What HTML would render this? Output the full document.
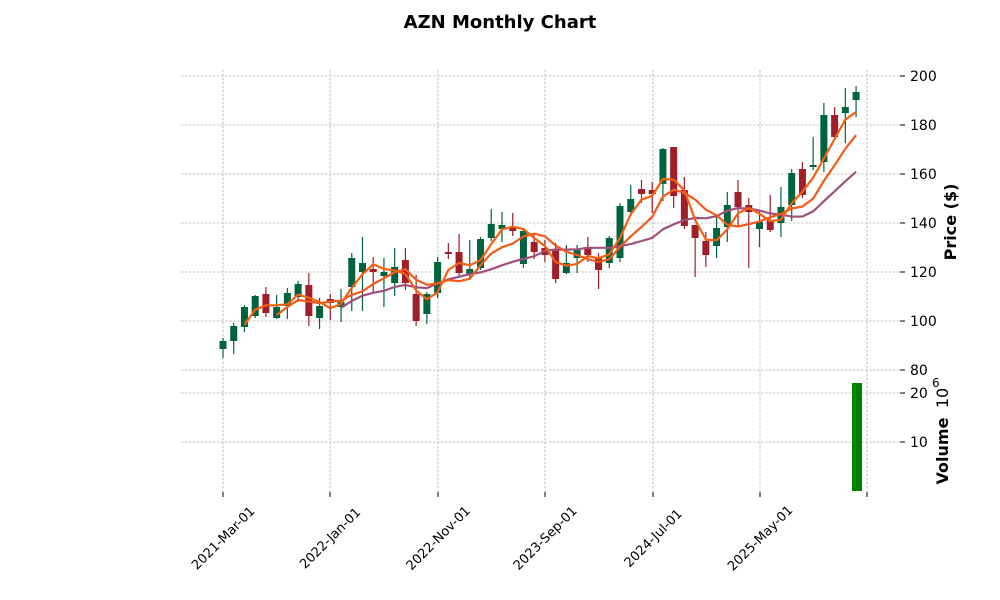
<!DOCTYPE html>
<html><head><meta charset="utf-8"><style>
body{margin:0;background:#fff;}
svg{display:block;font-family:"DejaVu Sans","Liberation Sans",sans-serif;}
</style></head><body>
<svg id="s" width="1000" height="600" viewBox="0 0 1000 600" xmlns="http://www.w3.org/2000/svg">
<rect width="1000" height="600" fill="#fff"/>
<text x="500" y="28" text-anchor="middle" font-size="18" font-weight="bold">AZN Monthly Chart</text>
<g id="grid" stroke="#b0b0b0" stroke-width="0.8" stroke-dasharray="2.5,1.5"></g>
<g id="c"></g>
<g id="ma"></g>
<rect x="852" y="383" width="10" height="108" fill="#008000"/>
<g font-size="14" fill="#000" id="yl"></g>
<g font-size="13" id="xl"></g>
<text transform="translate(956,222) rotate(-90)" text-anchor="middle" font-size="16" font-weight="bold">Price ($)</text>
<text transform="translate(948,451) rotate(-90)" text-anchor="middle" font-size="16" font-weight="bold">Volume</text>
<text transform="translate(948,398) rotate(-90)" text-anchor="middle" font-size="16">10</text>
<text x="932" y="387" font-size="12">6</text>
</svg>
<script>
const NS="http://www.w3.org/2000/svg";
function el(p,t,a,txt){const e=document.createElementNS(NS,t);for(const k in a)e.setAttribute(k,a[k]);if(txt!==undefined)e.textContent=txt;document.getElementById(p).appendChild(e);return e;}
const xt=[223,330,438,545,653,760,867],xn=["2021-Mar-01","2022-Jan-01","2022-Nov-01","2023-Sep-01","2024-Jul-01","2025-May-01",""];
[76,125,174,223,272,321,370,393,442].forEach(y=>el("grid","line",{x1:181,x2:900,y1:y,y2:y}));
xt.forEach((x,i)=>{el("grid","line",{x1:x,x2:x,y1:70,y2:492});
 el("xl","line",{x1:x,x2:x,y1:492,y2:497,stroke:"#000"});
 if(xn[i]){el("xl","text",{transform:`translate(${x},${538}) rotate(-45)`,"text-anchor":"middle",dy:"4.5"},xn[i]);}});
[[200,76],[180,125],[160,174],[140,223],[120,272],[100,321],[80,370],[20,393],[10,442]].forEach(([v,y])=>{
 el("yl","line",{x1:900,x2:905,y1:y,y2:y,stroke:"#000"});
 el("yl","text",{x:910,y:y+5},String(v));});
const d=[[341,349,338,358,1],[326,341,323,354,1],[307,327,305,332,1],[296,316,295,318,1],[294,313,287,317,0],
[307,318,295,319,1],[293,306,288,319,1],[284,297,281,302,1],[285,316,273,326,0],[306,318,298,329,1],
[299,303,294,320,0],[302,307,289,322,1],[258,287,253,311,1],[263,272,237,311,1],[269,272,257,292,0],
[272,276,258,307,1],[267,283,248,296,1],[260,283,248,290,0],[294,321,275,326,0],[294,314,292,324,1],
[262,293,257,298,1],[252,254,243,259,0],[252,273,234,276,0],[269,274,240,278,1],[239,268,237,270,1],
[224,238,209,241,1],[225,229,212,242,1],[228,231,213,236,0],[231,264,229,268,1],[242,252,235,259,0],
[248,255,240,262,0],[249,279,243,283,0],[263,273,245,274,1],[250,258,245,273,1],[247,255,237,262,0],
[258,270,253,289,0],[238,263,236,268,1],[206,258,203,262,1],[199,212,185,214,1],[189,194,180,203,0],
[190,194,182,213,0],[149,184,148,201,1],[147,196,147,208,0],[190,226,177,229,0],[225,238,225,277,0],
[241,255,232,267,0],[228,246,217,258,1],[205,227,192,242,1],[192,207,180,227,0],[205,212,198,268,0],
[222,229,210,247,1],[220,230,195,232,0],[207,223,187,237,1],[173,205,169,221,1],[169,195,162,198,0],
[165,167,137,170,1],[115,162,103,172,1],[115,137,107,140,0],[107,113,88,143,1],[92,100,86,117,1]];
const X=i=>223+i*10.73;const closes=[];
d.forEach((c,i)=>{const x=X(i),col=c[4]?"#006340":"#a01e2a";
 el("c","line",{x1:x,x2:x,y1:c[2],y2:c[3],stroke:col,"stroke-width":1.2});
 el("c","rect",{x:x-3.5,y:c[0],width:7,height:Math.max(1.5,c[1]-c[0]),fill:col});
 closes.push(c[4]?c[0]:c[1]);});
function ma(n,col){let p="";for(let i=n-1;i<closes.length;i++){let s=0;for(let j=i-n+1;j<=i;j++)s+=closes[j];p+=(p?"L":"M")+X(i).toFixed(1)+","+(s/n).toFixed(1);}
 el("ma","path",{d:p,fill:"none",stroke:col,"stroke-width":2.2,"stroke-linejoin":"round"});}
ma(12,"#a0507f");ma(6,"#f15a1a");ma(3,"#f5600f");
</script>
</body></html>
